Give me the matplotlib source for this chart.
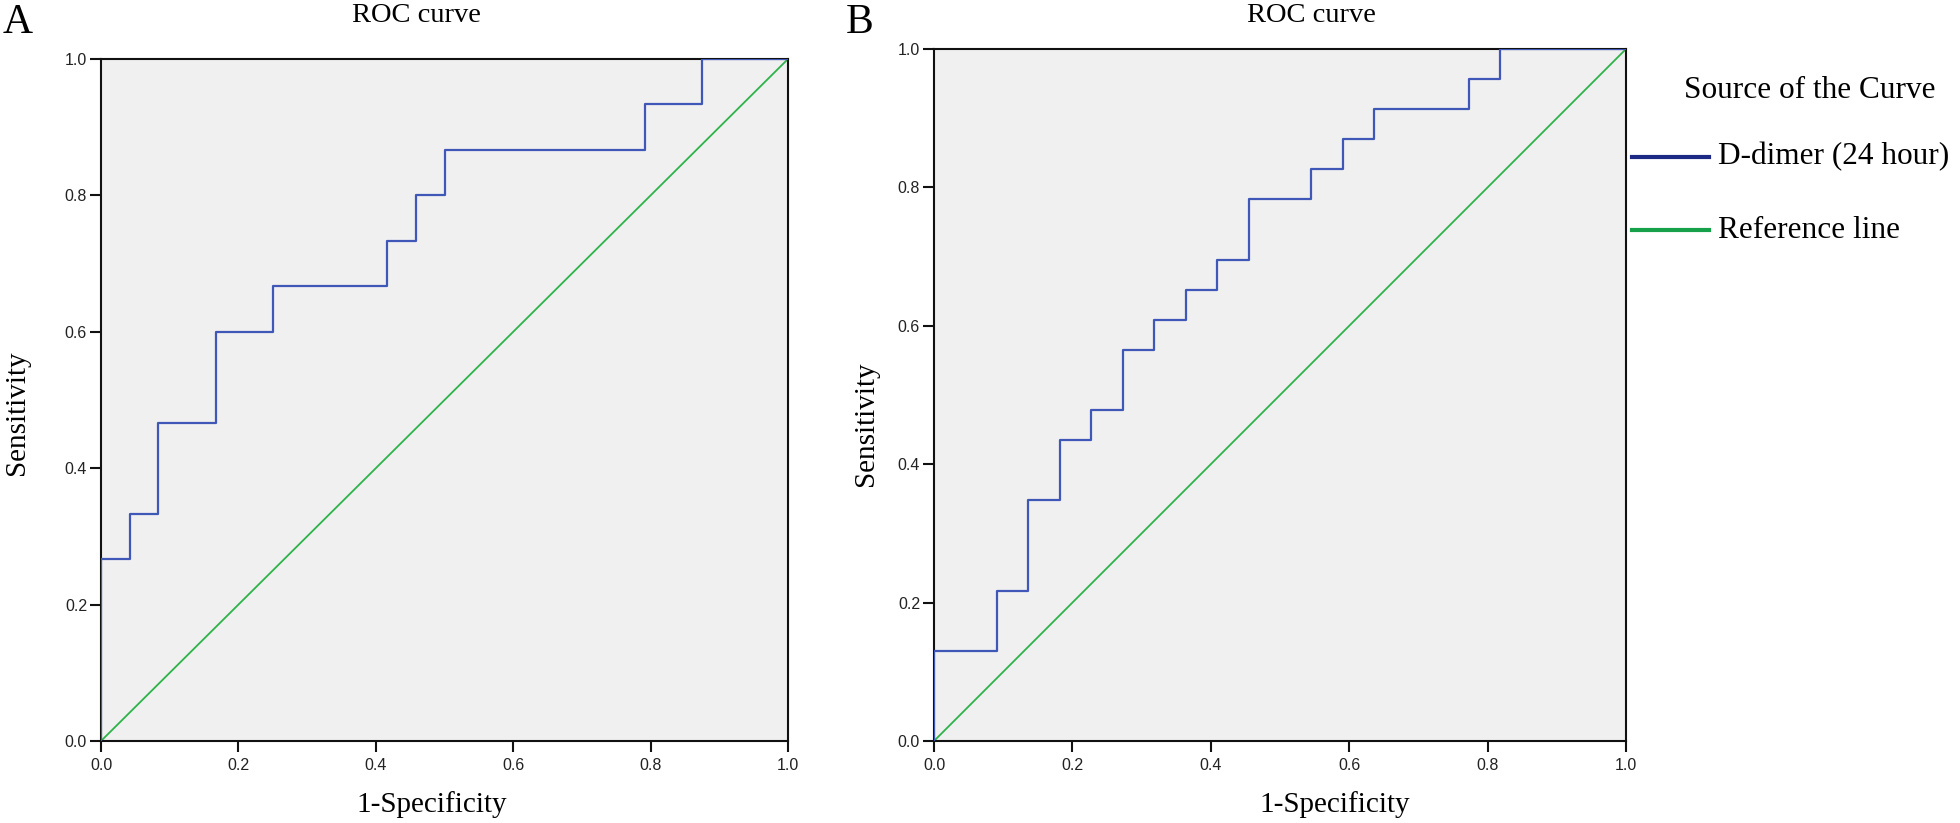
import matplotlib
matplotlib.use("Agg")
import matplotlib.pyplot as plt
from matplotlib.lines import Line2D

# Panel A: 24 negatives, 15 positives (step ROC)
fpr_a = [0, 0, 1/24, 1/24, 2/24, 2/24, 4/24, 4/24, 6/24, 6/24, 10/24, 10/24,
         11/24, 11/24, 12/24, 12/24, 19/24, 19/24, 21/24, 21/24, 1.0]
tpr_a = [0, 4/15, 4/15, 5/15, 5/15, 7/15, 7/15, 9/15, 9/15, 10/15, 10/15, 11/15,
         11/15, 12/15, 12/15, 13/15, 13/15, 14/15, 14/15, 1.0, 1.0]

# Panel B: 22 negatives, 23 positives
fpr_b = [0, 0, 2/22, 2/22, 3/22, 3/22, 4/22, 4/22, 5/22, 5/22, 6/22, 6/22,
         7/22, 7/22, 8/22, 8/22, 9/22, 9/22, 10/22, 10/22, 12/22, 12/22,
         13/22, 13/22, 14/22, 14/22, 17/22, 17/22, 18/22, 18/22, 1.0]
tpr_b = [0, 3/23, 3/23, 5/23, 5/23, 8/23, 8/23, 10/23, 10/23, 11/23, 11/23, 13/23,
         13/23, 14/23, 14/23, 15/23, 15/23, 16/23, 16/23, 18/23, 18/23, 19/23,
         19/23, 20/23, 20/23, 21/23, 21/23, 22/23, 22/23, 1.0, 1.0]

ref_line = [0, 1]
ticks = [0.0, 0.2, 0.4, 0.6, 0.8, 1.0]
tick_labels = ["0.0", "0.2", "0.4", "0.6", "0.8", "1.0"]
legend_labels = ["D-dimer (24 hour)", "Reference line"]

W, H = 1960, 823
fig = plt.figure(figsize=(W / 100, H / 100), dpi=100)

serif = "Liberation Serif"
sans = "Liberation Sans"
curve_blue = "#3F58B8"
ref_green = "#2DB34A"


def px(x0, y0, x1, y1):
    # pixel box (top-left origin) -> figure fraction rect
    return [x0 / W, 1 - y1 / H, (x1 - x0) / W, (y1 - y0) / H]


def style_axes(ax):
    ax.set_facecolor("#F0F0F0")
    ax.set_xlim(0, 1)
    ax.set_ylim(0, 1)
    ax.set_xticks(ticks)
    ax.set_yticks(ticks)
    ax.set_xticklabels(tick_labels, family=sans, fontsize=11.5, color="#222222")
    ax.set_yticklabels(tick_labels, family=sans, fontsize=11.5, color="#222222")
    ax.tick_params(direction="out", length=8, width=1.5, pad=2, color="#111111")
    ax.tick_params(axis="x", pad=4)
    for s in ax.spines.values():
        s.set_linewidth(1.5)
        s.set_color("#111111")


ax1 = fig.add_axes(px(101, 59, 788, 741))
ax1.plot(ref_line, ref_line, color=ref_green, lw=1.3, zorder=2)
ax1.plot(fpr_a, tpr_a, color=curve_blue, lw=1.6, zorder=3)
style_axes(ax1)

ax2 = fig.add_axes(px(934, 49, 1626, 741))
ax2.plot(ref_line, ref_line, color=ref_green, lw=1.3, zorder=2)
ax2.plot(fpr_b, tpr_b, color=curve_blue, lw=1.6, zorder=3)
style_axes(ax2)

# titles, axis labels, panel letters
def ftext(x, y, s, **kw):
    fig.text(x / W, 1 - y / H, s, family=serif, **kw)

ftext(3, 33, "A", fontsize=30, ha="left", va="baseline")
ftext(846, 33, "B", fontsize=30, ha="left", va="baseline")
ftext(416, 15, "ROC curve", fontsize=20.5, ha="center", va="center")
ftext(1311, 15, "ROC curve", fontsize=20.5, ha="center", va="center")
ftext(432, 805, "1-Specificity", fontsize=21, ha="center", va="center")
ftext(1335, 805, "1-Specificity", fontsize=21, ha="center", va="center")
ftext(17, 413, "Sensitivity", fontsize=21, ha="center", va="center", rotation=90)
ftext(866, 424, "Sensitivity", fontsize=21, ha="center", va="center", rotation=90)

# legend
ftext(1810, 90, "Source of the Curve", fontsize=22.5, ha="center", va="center")
legend_colors = ["#1C2A86", "#17A04A"]
legend_y = [157, 230]
for lab, col, yy in zip(legend_labels, legend_colors, legend_y):
    fig.add_artist(Line2D([1632 / W, 1709 / W], [1 - yy / H, 1 - yy / H],
                          color=col, lw=3, transform=fig.transFigure))
    ftext(1718, yy, lab, fontsize=22.5, ha="left", va="center")

fig.savefig("out.png", dpi=100)
